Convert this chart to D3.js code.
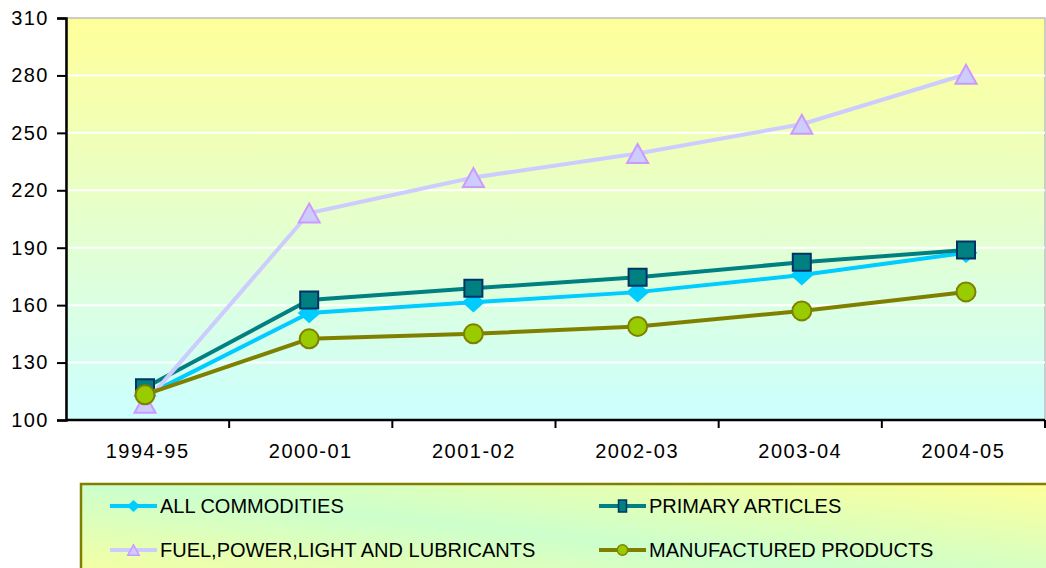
<!DOCTYPE html>
<html>
<head>
<meta charset="utf-8">
<script src="https://cdn.jsdelivr.net/npm/d3@7"></script>
<style>
  body { margin: 0; background: #fff; }
  text { font-family: "Liberation Sans", Arial, sans-serif; fill: #000; }
</style>
</head>
<body>
<div id="chart"></div>
<script>
var svgWidth = 1046;
var svgHeight = 568;

// data
var years = ["1994-95", "2000-01", "2001-02", "2002-03", "2003-04", "2004-05"];
var allCommodities = [112.6, 155.9, 161.5, 166.8, 175.7, 187.4];
var primaryArticles = [116.8, 162.7, 168.8, 174.6, 182.4, 188.8];
var fuelPower = [108.8, 208.1, 226.7, 239.2, 254.5, 280.6];
var manufactured = [113.2, 142.4, 145.0, 148.9, 157.0, 166.9];
var yTicks = [100, 130, 160, 190, 220, 250, 280, 310];

var series = [
  { name: "ALL COMMODITIES", values: allCommodities, line: "#00CCFF", fill: "#00CCFF", stroke: "#00CCFF", shape: "diamond" },
  { name: "PRIMARY ARTICLES", values: primaryArticles, line: "#008080", fill: "#008080", stroke: "#003366", shape: "square" },
  { name: "FUEL,POWER,LIGHT AND LUBRICANTS", values: fuelPower, line: "#CCCCFF", fill: "#CCCCFF", stroke: "#CC99FF", shape: "triangle" },
  { name: "MANUFACTURED PRODUCTS", values: manufactured, line: "#808000", fill: "#99CC00", stroke: "#808000", shape: "circle" }
];

var plot = { left: 66, top: 18, right: 1045, bottom: 420 };

var svg = d3.select("#chart")
  .append("svg")
  .attr("width", svgWidth)
  .attr("height", svgHeight);

var defs = svg.append("defs");

var plotGrad = defs.append("linearGradient")
  .attr("id", "plotGrad")
  .attr("x1", 0).attr("y1", 0).attr("x2", 0).attr("y2", 1);
plotGrad.append("stop").attr("offset", "0%").attr("stop-color", "#FFFF99");
plotGrad.append("stop").attr("offset", "100%").attr("stop-color", "#CCFFFF");

var legendGrad = defs.append("linearGradient")
  .attr("id", "legendGrad")
  .attr("x1", 0).attr("y1", 1).attr("x2", 1).attr("y2", 0);
legendGrad.append("stop").attr("offset", "0%").attr("stop-color", "#FFFF99");
legendGrad.append("stop").attr("offset", "50%").attr("stop-color", "#CCFFCC");
legendGrad.append("stop").attr("offset", "100%").attr("stop-color", "#FFFF99");

// scales: bands for the axis, points for the marks
var x = d3.scaleBand()
  .domain(years)
  .range([plot.left, plot.right]);

var xPoint = d3.scalePoint()
  .domain(years)
  .range([145, 966]);

var y = d3.scaleLinear()
  .domain([100, 310])
  .range([plot.bottom, plot.top]);

// plot area
svg.append("rect")
  .attr("x", plot.left)
  .attr("y", plot.top)
  .attr("width", plot.right - plot.left)
  .attr("height", plot.bottom - plot.top)
  .attr("fill", "url(#plotGrad)")
  .attr("stroke", "#BDBDBD")
  .attr("stroke-width", 1.5);

// gridlines
svg.append("g")
  .selectAll("line")
  .data(yTicks.slice(1, -1))
  .enter()
  .append("line")
  .attr("x1", plot.left)
  .attr("x2", plot.right)
  .attr("y1", d => y(d))
  .attr("y2", d => y(d))
  .attr("stroke", "#fff")
  .attr("stroke-width", 2);

// y axis
var yAxis = svg.append("g")
  .attr("transform", `translate(${plot.left}, 0)`)
  .call(d3.axisLeft(y).tickValues(yTicks).tickSize(9).tickPadding(8).tickFormat(d3.format("d")));

// x axis
var xAxis = svg.append("g")
  .attr("transform", `translate(0, ${plot.bottom})`)
  .call(d3.axisBottom(x).tickSize(0).tickPadding(24));

// x tick marks at category boundaries
xAxis.append("g")
  .selectAll("line")
  .data(years)
  .enter()
  .append("line")
  .attr("x1", d => x(d) + x.bandwidth())
  .attr("x2", d => x(d) + x.bandwidth())
  .attr("y1", 0)
  .attr("y2", 8)
  .attr("stroke", "#000")
  .attr("stroke-width", 2);

[yAxis, xAxis].forEach(function(ax) {
  ax.select(".domain").attr("stroke", "#000").attr("stroke-width", 2.5);
  ax.selectAll(".tick line").attr("stroke", "#000").attr("stroke-width", 2);
  ax.selectAll("text")
    .style("font-size", "20px")
    .style("letter-spacing", "1.5px")
    .attr("fill", "#000");
});
xAxis.select(".domain").attr("d", `M${plot.left},0H${plot.right}`);

// marker shapes, s = scale factor
function markerPath(shape, s) {
  if (shape === "diamond") return `M0,${-9 * s}L${10 * s},0L0,${9 * s}L${-10 * s},0Z`;
  if (shape === "square") return `M${-9 * s},${-8.5 * s}H${9 * s}V${8.5 * s}H${-9 * s}Z`;
  if (shape === "triangle") return `M0,${-9.5 * s}L${10.5 * s},${9.5 * s}H${-10.5 * s}Z`;
  var r = 9.5 * s;
  return `M${-r},0A${r},${r},0,1,1,${r},0A${r},${r},0,1,1,${-r},0Z`;
}

var line = d3.line()
  .x((d, i) => xPoint(years[i]))
  .y(d => y(d));

var seriesGroup = svg.append("g");

series.forEach(function(s) {
  var g = seriesGroup.append("g");
  g.append("path")
    .datum(s.values)
    .attr("d", line)
    .attr("fill", "none")
    .attr("stroke", s.line)
    .attr("stroke-width", 4);

  g.selectAll("path.marker")
    .data(s.values)
    .enter()
    .append("path")
    .attr("class", "marker")
    .attr("d", markerPath(s.shape, 1))
    .attr("transform", (d, i) => `translate(${xPoint(years[i])}, ${y(d)})`)
    .attr("fill", s.fill)
    .attr("stroke", s.stroke)
    .attr("stroke-width", 2);
});

// legend
var legend = svg.append("g");

legend.append("rect")
  .attr("x", 81)
  .attr("y", 484)
  .attr("width", 1000)
  .attr("height", 110)
  .attr("fill", "url(#legendGrad)")
  .attr("stroke", "#808000")
  .attr("stroke-width", 2.5);

var legendPos = [[110, 506], [599, 506], [110, 550], [599, 550]];

var legendItems = legend.selectAll("g.item")
  .data(series)
  .enter()
  .append("g")
  .attr("class", "item")
  .attr("transform", (d, i) => `translate(${legendPos[i][0]}, ${legendPos[i][1]})`);

legendItems.append("line")
  .attr("x1", 0)
  .attr("x2", 47)
  .attr("stroke", d => d.line)
  .attr("stroke-width", 4);

legendItems.append("path")
  .attr("transform", "translate(23.5, 0)")
  .attr("d", d => d.shape === "square" ? "M-4,-6H4V6H-4Z" : markerPath(d.shape, 0.55))
  .attr("fill", d => d.fill)
  .attr("stroke", d => d.stroke)
  .attr("stroke-width", 1.5);

legendItems.append("text")
  .attr("x", 50)
  .attr("dy", "0.35em")
  .style("font-size", "20px")
  .text(d => d.name);
</script>
</body>
</html>
